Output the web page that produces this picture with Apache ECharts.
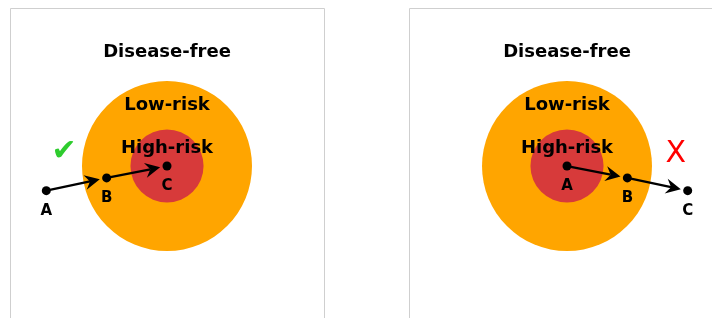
<!DOCTYPE html>
<html>
<head>
<meta charset="utf-8">
<script src="https://cdn.jsdelivr.net/npm/echarts@6/dist/echarts.min.js"></script>
<style>html,body{margin:0;padding:0;background:#fff}#chart{width:712px;height:318px}</style>
</head>
<body>
<div id="chart"></div>
<script>
// ---- data ----
const zoneRadii = [1.0, 0.43];              // outer (low-risk), inner (high-risk)
const zoneColors = ['#ffa500', '#d73a3a'];
const zoneLabels = ['Disease-free', 'Low-risk', 'High-risk'];
const zoneLabelY = [1.34, 0.71, 0.21];
const pointNames = ['A', 'B', 'C'];
const leftPathX = [-1.42, -0.71, 0.0];
const leftPathY = [-0.29, -0.14, 0.0];
const rightPathX = [0.0, 0.71, 1.42];
const rightPathY = [0.0, -0.14, -0.29];
const verdictText = ['\u2714', 'X'];
const verdictColor = ['#2ecc2e', '#ff0000'];
const verdictX = [-1.21, 1.28];
const verdictY = [0.16, 0.14];
// visible axis window of each panel (panels are cropped by the picture edge)
const panelXMin = [-1.847, -1.859];
const panelXMax = [1.847, 1.706];
const panelYMin = [-1.788, -1.788];
const panelYMax = [1.859, 1.859];

const FONT = 'DejaVu Sans';
const paths = [
  {x: leftPathX, y: leftPathY},
  {x: rightPathX, y: rightPathY}
];

const chart = echarts.init(document.getElementById('chart'), null, {renderer: 'canvas'});

const grids = [
  {left: 10, top: 8, width: 314, height: 310, show: false},
  {left: 409, top: 8, width: 303, height: 310, show: false}
];
const xAxes = grids.map((g, i) => ({gridIndex: i, type: 'value', min: panelXMin[i], max: panelXMax[i], show: false}));
const yAxes = grids.map((g, i) => ({gridIndex: i, type: 'value', min: panelYMin[i], max: panelYMax[i], show: false}));

const series = [];
paths.forEach((p, pi) => {
  series.push({
    type: 'custom', xAxisIndex: pi, yAxisIndex: pi, silent: true, z: 1,
    data: zoneRadii.map((r, i) => [0, 0, r, i]),
    renderItem: (params, api) => {
      const c = api.coord([api.value(0), api.value(1)]);
      const rr = api.size([api.value(2), 0])[0];
      return {type: 'circle', shape: {cx: c[0], cy: c[1], r: rr}, style: {fill: zoneColors[api.value(3)]}};
    }
  });
  series.push({
    type: 'custom', xAxisIndex: pi, yAxisIndex: pi, silent: true, z: 3,
    data: zoneLabels.map((t, i) => [0, zoneLabelY[i], i]),
    renderItem: (params, api) => {
      const c = api.coord([api.value(0), api.value(1)]);
      return {type: 'text', x: c[0], y: c[1], style: {text: zoneLabels[api.value(2)], fill: '#000', fontSize: 18, fontWeight: 'bold', fontFamily: FONT, align: 'center', verticalAlign: 'middle'}};
    }
  });
  series.push({
    type: 'custom', xAxisIndex: pi, yAxisIndex: pi, silent: true, z: 3,
    data: [[verdictX[pi], verdictY[pi]]],
    renderItem: (params, api) => {
      const c = api.coord([api.value(0), api.value(1)]);
      return {type: 'text', x: c[0], y: c[1], style: {text: verdictText[pi], fill: verdictColor[pi], fontSize: 30, fontWeight: 'normal', fontFamily: FONT, align: 'center', verticalAlign: 'middle'}};
    }
  });
  const segs = [];
  for (let i = 0; i < p.x.length - 1; i++) segs.push([p.x[i], p.y[i], p.x[i + 1], p.y[i + 1]]);
  series.push({
    type: 'custom', xAxisIndex: pi, yAxisIndex: pi, silent: true, z: 4,
    data: segs,
    renderItem: (params, api) => {
      const a = api.coord([api.value(0), api.value(1)]);
      const b = api.coord([api.value(2), api.value(3)]);
      const dx = b[0] - a[0], dy = b[1] - a[1];
      const len = Math.sqrt(dx * dx + dy * dy);
      const ux = dx / len, uy = dy / len;
      const nx = -uy, ny = ux;
      const shrink = 7, L = 15, W = 7.5, notch = 5;
      const tip = [b[0] - ux * shrink, b[1] - uy * shrink];
      const back = [tip[0] - ux * L, tip[1] - uy * L];
      const mid = [tip[0] - ux * (L - notch), tip[1] - uy * (L - notch)];
      return {
        type: 'group',
        children: [
          {type: 'line', shape: {x1: a[0], y1: a[1], x2: mid[0], y2: mid[1]}, style: {stroke: '#000', lineWidth: 2.3}},
          {type: 'polygon', shape: {points: [tip, [back[0] + nx * W, back[1] + ny * W], mid, [back[0] - nx * W, back[1] - ny * W]]}, style: {fill: '#000'}}
        ]
      };
    }
  });
  series.push({
    type: 'scatter', xAxisIndex: pi, yAxisIndex: pi, silent: true, z: 5,
    symbol: 'circle', symbolSize: 9, itemStyle: {color: '#000', opacity: 1},
    data: p.x.map((x, i) => ({value: [x, p.y[i]], name: pointNames[i]})),
    label: {show: true, position: 'bottom', distance: 8, formatter: '{b}', color: '#000', fontSize: 15, fontWeight: 'bold', fontFamily: FONT}
  });
});

chart.setOption({
  animation: false,
  backgroundColor: '#fff',
  graphic: [
    {type: 'rect', x: 0, y: 0, shape: {x: 10.5, y: 8.5, width: 314, height: 330}, style: {fill: 'none', stroke: '#cfcfcf', lineWidth: 1}, z: -1, silent: true},
    {type: 'rect', x: 0, y: 0, shape: {x: 409.5, y: 8.5, width: 330, height: 330}, style: {fill: 'none', stroke: '#cfcfcf', lineWidth: 1}, z: -1, silent: true}
  ],
  grid: grids,
  xAxis: xAxes,
  yAxis: yAxes,
  series: series
});
</script>
</body>
</html>
